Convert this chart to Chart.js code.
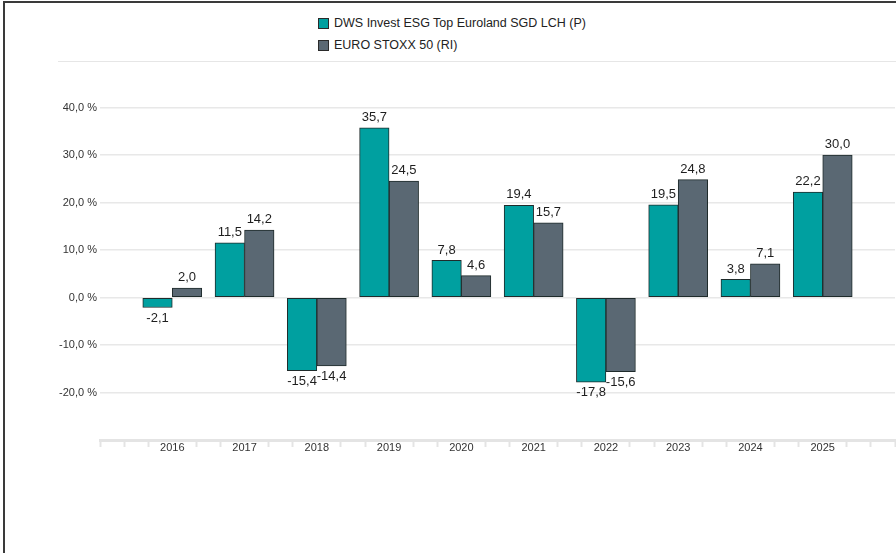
<!DOCTYPE html>
<html>
<head>
<meta charset="utf-8">
<script src="https://cdn.jsdelivr.net/npm/chart.js@4.4.1/dist/chart.umd.min.js"></script>
<style>
  html, body { margin: 0; padding: 0; background: #fff; }
  body { width: 896px; height: 553px; position: relative; overflow: hidden; font-family: "Liberation Sans", Arial, sans-serif; }
  #frame { position: absolute; left: 3px; top: 1px; right: -10px; bottom: -10px; border-top: 2px solid #3a3a3a; border-left: 2px solid #3a3a3a; }
  #legend { position: absolute; left: 318px; top: 12px; font-size: 12.5px; color: #222; }
  .item { height: 22px; display: flex; align-items: center; }
  .box { width: 9px; height: 9px; border: 1px solid #2a2a2a; margin-right: 5px; }
  #sep { position: absolute; left: 58px; right: 0; top: 61px; height: 0; border-top: 1.5px solid #e6e6e6; }
  #wrap { position: absolute; left: 0; top: 0; width: 896px; height: 553px; }
</style>
</head>
<body>
<div id="frame"></div>
<div id="legend"></div>
<div id="sep"></div>
<div id="wrap"><canvas id="returnsChart"></canvas></div>
<script>
var years = [2016, 2017, 2018, 2019, 2020, 2021, 2022, 2023, 2024, 2025];
var fundReturns = [-2.1, 11.5, -15.4, 35.7, 7.8, 19.4, -17.8, 19.5, 3.8, 22.2];
var indexReturns = [2.0, 14.2, -14.4, 24.5, 4.6, 15.7, -15.6, 24.8, 7.1, 30.0];
var seriesNames = ["DWS Invest ESG Top Euroland SGD LCH (P)", "EURO STOXX 50 (RI)"];
var seriesColors = ["#00A0A0", "#5A6873"];

function fmt(v) {
  return v.toFixed(1).replace('.', ',');
}

// legend as plain html, two lines
var legend = document.getElementById('legend');
seriesNames.forEach(function (name, i) {
  var row = document.createElement('div');
  row.className = 'item';
  row.innerHTML = '<span class="box" style="background:' + seriesColors[i] + '"></span><span>' + name + '</span>';
  legend.appendChild(row);
});

var valueLabels = {
  id: 'valueLabels',
  afterDatasetsDraw: function (chart) {
    var ctx = chart.ctx;
    ctx.save();
    ctx.font = '13px "Liberation Sans", Arial, sans-serif';
    ctx.fillStyle = '#1e1e1e';
    ctx.textAlign = 'center';
    chart.data.datasets.forEach(function (ds, i) {
      var meta = chart.getDatasetMeta(i);
      meta.data.forEach(function (bar, j) {
        var v = ds.data[j];
        if (v >= 0) {
          ctx.textBaseline = 'bottom';
          ctx.fillText(fmt(v), bar.x, bar.y - 4);
        } else {
          ctx.textBaseline = 'top';
          ctx.fillText(fmt(v), bar.x, bar.y + 4);
        }
      });
    });
    ctx.restore();
  }
};

var ctx = document.getElementById('returnsChart').getContext('2d');
var myChart = new Chart(ctx, {
  type: 'bar',
  data: {
    labels: years,
    datasets: [{
      label: seriesNames[0],
      data: fundReturns,
      backgroundColor: seriesColors[0],
      borderColor: '#1f2b2b',
      borderWidth: 1,
      borderSkipped: false
    }, {
      label: seriesNames[1],
      data: indexReturns,
      backgroundColor: seriesColors[1],
      borderColor: '#1f2b2b',
      borderWidth: 1,
      borderSkipped: false
    }]
  },
  options: {
    responsive: true,
    maintainAspectRatio: false,
    animation: false,
    barThickness: 29.5,
    layout: { padding: { top: 60, right: 1, bottom: 93, left: 0 } },
    plugins: {
      legend: { display: false },
      tooltip: { enabled: false }
    },
    scales: {
      x: {
        type: 'linear',
        min: 2015,
        max: 2026,
        offset: false,
        afterBuildTicks: function (scale) {
          var t = [];
          for (var y = 2015; y <= 2026; y++) {
            t.push({ value: y });
            if (y < 2026) {
              t.push({ value: y + 1 / 3 });
              t.push({ value: y + 2 / 3 });
            }
          }
          scale.ticks = t;
        },
        afterFit: function (scale) { scale.height = 20; },
        grid: {
          offset: false,
          drawOnChartArea: false,
          drawTicks: true,
          tickLength: 7,
          tickWidth: 2,
          tickColor: function (c) {
            var v = c.tick ? c.tick.value : null;
            return years.indexOf(v) >= 0 ? 'rgba(0,0,0,0)' : '#e4e4e4';
          }
        },
        border: { display: true, color: '#e4e4e4', width: 3 },
        ticks: {
          autoSkip: false,
          maxRotation: 0,
          padding: -6,
          color: '#333',
          font: { size: 11, family: '"Liberation Sans", Arial, sans-serif' },
          callback: function (v) {
            return years.indexOf(v) >= 0 ? String(v) : '';
          }
        }
      },
      y: {
        min: -30,
        max: 50,
        afterFit: function (scale) { scale.width = 100; },
        border: { display: false },
        grid: {
          drawTicks: false,
          lineWidth: 1.5,
          color: function (c) {
            var v = c.tick ? c.tick.value : null;
            return (v === 50 || v === -30) ? 'rgba(0,0,0,0)' : '#e8e8e8';
          }
        },
        ticks: {
          stepSize: 10,
          padding: 3,
          color: '#333',
          font: { size: 11, family: '"Liberation Sans", Arial, sans-serif' },
          callback: function (v) {
            return (v >= -20 && v <= 40) ? fmt(v) + ' %' : '';
          }
        }
      }
    }
  },
  plugins: [valueLabels]
});
</script>
</body>
</html>
